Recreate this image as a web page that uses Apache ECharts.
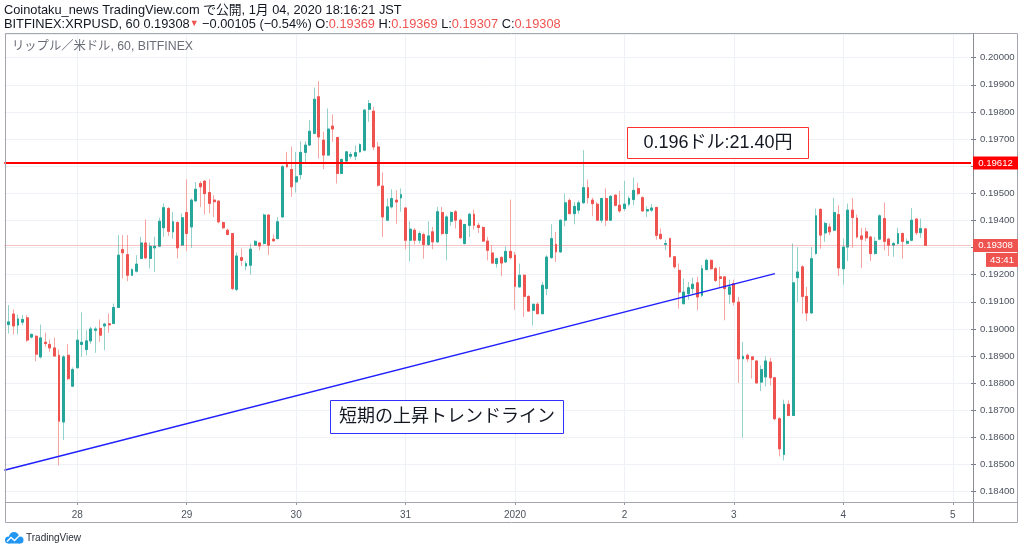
<!DOCTYPE html>
<html><head><meta charset="utf-8">
<script src="https://cdn.jsdelivr.net/npm/echarts@6/dist/echarts.min.js"></script>
<style>html,body{margin:0;padding:0;background:#fff}#c{width:1024px;height:552px}</style>
</head><body><div id="c"></div>
<script>
// ---- data (BITFINEX:XRPUSD, 60 min) ----
const dayLabels = {'12-28':'28','12-29':'29','12-30':'30','12-31':'31','01-01':'2020','01-02':'2','01-03':'3','01-04':'4','01-05':'5'};
const opens = [
0.19016,0.19055,0.19014,0.19025,0.19041,0.18970,0.18973,0.18897,0.18951,0.18943,
0.18930,0.18903,0.18657,0.18903,0.18789,0.18857,0.18943,0.18924,0.18956,0.18995,
0.19002,0.19011,0.19019,0.19020,0.19079,0.19293,0.19274,0.19198,0.19213,0.19260,
0.19317,0.19260,0.19299,0.19305,0.19373,0.19444,0.19358,0.19392,0.19309,0.19429,
0.19376,0.19472,0.19536,0.19545,0.19503,0.19475,0.19471,0.19392,0.19364,0.19352,
0.19146,0.19263,0.19232,0.19235,0.19309,0.19317,0.19315,0.19420,0.19331,0.19333,
0.19413,0.19606,0.19588,0.19542,0.19569,0.19651,0.19678,0.19721,0.19856,0.19696,
0.19641,0.19748,0.19706,0.19573,0.19619,0.19637,0.19637,0.19653,0.19659,0.19810,
0.19803,0.19671,0.19527,0.19401,0.19450,0.19475,0.19483,0.19446,0.19327,0.19364,
0.19327,0.19348,0.19311,0.19358,0.19321,0.19429,0.19352,0.19397,0.19432,0.19401,
0.19315,0.19382,0.19423,0.19382,0.19374,0.19324,0.19280,0.19241,0.19263,0.19247,
0.19286,0.19272,0.19155,0.19198,0.19120,0.19069,0.19091,0.19056,0.19149,0.19263,
0.19312,0.19284,0.19401,0.19474,0.19425,0.19438,0.19465,0.19521,0.19475,0.19460,
0.19401,0.19481,0.19401,0.19493,0.19456,0.19444,0.19460,0.19477,0.19518,0.19484,
0.19435,0.19438,0.19448,0.19349,0.19312,0.19333,0.19266,0.19216,0.19093,0.19130,
0.19149,0.19170,0.19124,0.19219,0.19253,0.19222,0.19192,0.19192,0.19128,0.19167,
0.19099,0.18890,0.18903,0.18897,0.18882,0.18804,0.18823,0.18878,0.18820,0.18669,
0.18537,0.18722,0.18681,0.19189,0.19229,0.19120,0.19059,0.19278,0.19441,0.19354,
0.19376,0.19364,0.19422,0.19222,0.19302,0.19438,0.19409,0.19343,0.19358,0.19339,
0.19278,0.19331,0.19407,0.19331,0.19309,0.19315,0.19352,0.19316,0.19327,0.19405,
0.19355,0.19369];
const closes = [
0.19026,0.19011,0.19037,0.19035,0.18959,0.18980,0.18907,0.18967,0.18946,0.18930,
0.18900,0.18660,0.18897,0.18817,0.18850,0.18959,0.18951,0.18956,0.19000,0.19000,
0.18977,0.19018,0.19015,0.19079,0.19272,0.19281,0.19198,0.19219,0.19239,0.19317,
0.19262,0.19305,0.19305,0.19397,0.19447,0.19360,0.19395,0.19299,0.19410,0.19352,
0.19475,0.19515,0.19524,0.19499,0.19463,0.19469,0.19395,0.19373,0.19348,0.19149,
0.19269,0.19253,0.19241,0.19294,0.19323,0.19306,0.19420,0.19309,0.19325,0.19395,
0.19598,0.19598,0.19524,0.19561,0.19651,0.19678,0.19729,0.19847,0.19708,0.19641,
0.19737,0.19737,0.19573,0.19625,0.19653,0.19643,0.19650,0.19680,0.19807,0.19831,
0.19671,0.19530,0.19413,0.19450,0.19481,0.19468,0.19495,0.19327,0.19368,0.19327,
0.19352,0.19311,0.19343,0.19321,0.19432,0.19352,0.19413,0.19429,0.19401,0.19336,
0.19385,0.19423,0.19382,0.19374,0.19324,0.19290,0.19243,0.19259,0.19243,0.19286,
0.19263,0.19157,0.19198,0.19120,0.19066,0.19091,0.19056,0.19161,0.19265,0.19333,
0.19284,0.19401,0.19465,0.19425,0.19452,0.19465,0.19521,0.19484,0.19462,0.19401,
0.19481,0.19401,0.19489,0.19456,0.19435,0.19460,0.19481,0.19511,0.19499,0.19435,
0.19440,0.19446,0.19345,0.19333,0.19315,0.19266,0.19229,0.19136,0.19136,0.19152,
0.19165,0.19118,0.19222,0.19253,0.19222,0.19179,0.19186,0.19149,0.19155,0.19099,
0.18890,0.18899,0.18890,0.18887,0.18801,0.18850,0.18882,0.18820,0.18669,0.18558,
0.18722,0.18681,0.19170,0.19210,0.19120,0.19059,0.19259,0.19417,0.19346,0.19389,
0.19358,0.19429,0.19225,0.19302,0.19438,0.19411,0.19339,0.19331,0.19336,0.19278,
0.19323,0.19417,0.19323,0.19309,0.19315,0.19352,0.19323,0.19323,0.19401,0.19355,
0.19370,0.19308];
const lows = [
0.18983,0.18980,0.18980,0.19014,0.18952,0.18965,0.18881,0.18891,0.18934,0.18916,
0.18900,0.18497,0.18590,0.18811,0.18786,0.18854,0.18897,0.18903,0.18946,0.18912,
0.18952,0.18922,0.18986,0.19018,0.19079,0.19186,0.19176,0.19196,0.19208,0.19257,
0.19257,0.19223,0.19210,0.19303,0.19340,0.19343,0.19333,0.19260,0.19306,0.19287,
0.19299,0.19471,0.19450,0.19422,0.19426,0.19413,0.19389,0.19368,0.19346,0.19143,
0.19139,0.19232,0.19216,0.19200,0.19306,0.19290,0.19311,0.19272,0.19321,0.19331,
0.19410,0.19592,0.19487,0.19503,0.19552,0.19614,0.19675,0.19717,0.19628,0.19589,
0.19638,0.19690,0.19536,0.19571,0.19614,0.19628,0.19622,0.19650,0.19655,0.19764,
0.19659,0.19524,0.19339,0.19397,0.19444,0.19388,0.19432,0.19294,0.19249,0.19311,
0.19315,0.19259,0.19306,0.19294,0.19318,0.19345,0.19253,0.19380,0.19370,0.19333,
0.19311,0.19339,0.19366,0.19354,0.19321,0.19253,0.19241,0.19226,0.19194,0.19243,
0.19256,0.19071,0.19152,0.19044,0.19064,0.19013,0.19056,0.19054,0.19124,0.19259,
0.19247,0.19280,0.19379,0.19423,0.19386,0.19425,0.19462,0.19462,0.19416,0.19398,
0.19391,0.19379,0.19398,0.19452,0.19428,0.19435,0.19452,0.19456,0.19493,0.19432,
0.19413,0.19432,0.19329,0.19329,0.19290,0.19263,0.19222,0.19075,0.19091,0.19108,
0.19130,0.19069,0.19118,0.19216,0.19219,0.19173,0.19155,0.19032,0.19093,0.19087,
0.18801,0.18599,0.18878,0.18817,0.18798,0.18771,0.18788,0.18792,0.18663,0.18530,
0.18515,0.18678,0.18679,0.19099,0.19056,0.19029,0.19056,0.19274,0.19296,0.19321,
0.19346,0.19360,0.19195,0.19163,0.19250,0.19299,0.19333,0.19225,0.19323,0.19250,
0.19274,0.19327,0.19290,0.19269,0.19266,0.19311,0.19259,0.19311,0.19323,0.19346,
0.19336,0.19307];
const highs = [
0.19088,0.19072,0.19053,0.19051,0.19051,0.18983,0.18977,0.19016,0.18986,0.18961,
0.18968,0.18924,0.18903,0.18944,0.18858,0.18998,0.19061,0.18995,0.19008,0.19008,
0.19035,0.19023,0.19057,0.19094,0.19346,0.19346,0.19346,0.19223,0.19272,0.19340,
0.19404,0.19319,0.19340,0.19410,0.19463,0.19450,0.19432,0.19397,0.19426,0.19552,
0.19481,0.19542,0.19545,0.19549,0.19552,0.19493,0.19475,0.19397,0.19370,0.19352,
0.19282,0.19296,0.19250,0.19315,0.19327,0.19321,0.19426,0.19422,0.19348,0.19413,
0.19604,0.19653,0.19672,0.19653,0.19692,0.19692,0.19770,0.19889,0.19914,0.19727,
0.19813,0.19791,0.19708,0.19628,0.19656,0.19653,0.19677,0.19684,0.19810,0.19844,
0.19819,0.19690,0.19577,0.19481,0.19515,0.19511,0.19518,0.19450,0.19397,0.19372,
0.19360,0.19355,0.19397,0.19376,0.19450,0.19450,0.19419,0.19434,0.19438,0.19407,
0.19388,0.19428,0.19440,0.19391,0.19379,0.19339,0.19308,0.19263,0.19268,0.19305,
0.19477,0.19284,0.19241,0.19201,0.19124,0.19093,0.19099,0.19173,0.19272,0.19386,
0.19358,0.19403,0.19499,0.19481,0.19468,0.19474,0.19659,0.19551,0.19484,0.19468,
0.19484,0.19518,0.19493,0.19497,0.19509,0.19546,0.19489,0.19558,0.19539,0.19489,
0.19452,0.19460,0.19450,0.19370,0.19329,0.19337,0.19268,0.19241,0.19186,0.19173,
0.19189,0.19192,0.19235,0.19259,0.19256,0.19229,0.19229,0.19194,0.19182,0.19182,
0.19118,0.18952,0.18909,0.18899,0.18884,0.18866,0.18899,0.18894,0.18823,0.18675,
0.18739,0.18737,0.19315,0.19302,0.19235,0.19155,0.19302,0.19444,0.19444,0.19395,
0.19389,0.19483,0.19456,0.19333,0.19462,0.19483,0.19422,0.19373,0.19373,0.19343,
0.19339,0.19422,0.19466,0.19336,0.19321,0.19373,0.19355,0.19333,0.19446,0.19409,
0.19407,0.19369];
const resistance = 0.19612;
const lastPrice = 0.19308;
const trendStart = ['12-27 08:00', 0.18479];
const trendEnd = ['01-03 09:00', 0.19204];

// ---- hourly categories: 12-27 08:00 .. 01-05 04:00 (first/last slots empty) ----
const p2 = n => (n < 10 ? '0' : '') + n;
const categories = [];
const t0 = Date.UTC(2019, 11, 27, 8);
for (let i = 0; i < 213; i++) {
  const d = new Date(t0 + i * 3600000);
  categories.push(p2(d.getUTCMonth() + 1) + '-' + p2(d.getUTCDate()) + ' ' + p2(d.getUTCHours()) + ':00');
}
const firstCat = categories[0], lastCat = categories[categories.length - 1];
const isDay = i => !!categories[i] && categories[i].slice(6) === '00:00';
const wickData = opens.map((o, i) => [categories[i + 1], o, closes[i], lows[i], highs[i]]);
const bodyData = opens.map((o, i) => [categories[i + 1], o, closes[i], Math.min(o, closes[i]), Math.max(o, closes[i])]);

const FONT = '"Liberation Sans", "Noto Sans CJK JP", sans-serif';
const chart = echarts.init(document.getElementById('c'));
chart.setOption({
  animation: false,
  backgroundColor: '#ffffff',
  grid: { left: 4.3, right: 53, top: 34, bottom: 50, containLabel: false },
  xAxis: {
    type: 'category', data: categories, boundaryGap: false,
    axisLine: { show: false },
    axisTick: { show: true, interval: i => isDay(i), length: 3, lineStyle: { color: '#9598a1' } },
    axisLabel: { interval: i => isDay(i), formatter: v => dayLabels[v.slice(0, 5)] || '', color: '#4c525e', fontSize: 10, margin: 8, fontFamily: FONT },
    splitLine: { show: true, interval: i => isDay(i), lineStyle: { color: '#eef1f6', width: 1 } }
  },
  yAxis: {
    type: 'value', position: 'right', min: 0.18362, max: 0.200874, splitNumber: 17,
    axisLine: { show: false },
    axisTick: { show: true, length: 5, lineStyle: { color: '#787b86' } },
    axisLabel: {
      color: '#4c525e', fontSize: 9.6, margin: 9, fontFamily: FONT, showMinLabel: false, showMaxLabel: false,
      formatter: v => (Math.abs(v * 1000 - Math.round(v * 1000)) < 1e-6 ? v.toFixed(5) : '')
    },
    splitLine: { show: true, lineStyle: { color: '#eef1f6', width: 1 } }
  },
  series: [
    {
      type: 'candlestick', name: 'wick', data: wickData, encode: { x: 0, y: [1, 2, 3, 4] },
      barWidth: 2.4, silent: true, z: 2,
      itemStyle: { color: '#93d2cb', color0: '#f6a5a3', borderColor: '#93d2cb', borderColor0: '#f6a5a3', borderWidth: 1 }
    },
    {
      type: 'candlestick', name: 'body', data: bodyData, encode: { x: 0, y: [1, 2, 3, 4] },
      barWidth: 2.4, silent: true, z: 3,
      itemStyle: { color: '#26a69a', color0: '#ef5350', borderColor: '#26a69a', borderColor0: '#ef5350', borderWidth: 1 },
      markLine: {
        silent: true, symbol: ['none', 'none'], label: { show: false }, z: 4, precision: 5,
        data: [
          [{ coord: [firstCat, lastPrice], lineStyle: { color: 'rgba(239,83,80,0.35)', width: 1, type: 'solid' } }, { coord: [lastCat, lastPrice] }],
          [{ coord: [firstCat, resistance], lineStyle: { color: '#ff0000', width: 2, type: 'solid' } }, { coord: [lastCat, resistance] }],
          [{ coord: trendStart, lineStyle: { color: '#1f1fff', width: 1.5, type: 'solid' } }, { coord: trendEnd }]
        ]
      }
    }
  ]
});

const yRes = chart.convertToPixel({ yAxisIndex: 0 }, resistance);
const yLast = chart.convertToPixel({ yAxisIndex: 0 }, lastPrice);
const tagText = (x, y, t) => ({ type: 'text', x: x, y: y, style: { text: t, fill: '#ffffff', font: '9.6px ' + FONT, align: 'center', verticalAlign: 'middle' }, z: 20 });
chart.setOption({
  graphic: [
    // frame
    { type: 'rect', shape: { x: 5.5, y: 33.5, width: 1012, height: 489 }, style: { fill: 'none', stroke: '#a3a6af', lineWidth: 1 }, z: 10 },
    { type: 'line', shape: { x1: 973.5, y1: 33.5, x2: 973.5, y2: 522.5 }, style: { stroke: '#8a8d96', lineWidth: 1 }, z: 10 },
    { type: 'line', shape: { x1: 5.5, y1: 502.5, x2: 1017.5, y2: 502.5 }, style: { stroke: '#a3a6af', lineWidth: 1 }, z: 10 },
    // header
    { type: 'text', x: 4, y: 10, style: { text: 'Coinotaku_news TradingView.com で公開, 1月 04, 2020 18:16:21 JST', fill: '#131722', font: '12.8px ' + FONT, verticalAlign: 'middle' }, z: 20 },
    { type: 'text', x: 4, y: 24, style: {
        text: '{k|BITFINEX:XRPUSD, 60 0.19308}{t|▼}{k| −0.00105 (−0.54%) O:}{r|0.19369}{k| H:}{r|0.19369}{k| L:}{r|0.19307}{k| C:}{r|0.19308}',
        font: '12.8px ' + FONT, verticalAlign: 'middle',
        rich: { k: { fill: '#131722', font: '12.8px ' + FONT }, r: { fill: '#ef5350', font: '12.8px ' + FONT }, t: { fill: '#ef5350', font: '9px ' + FONT } }
      }, z: 20 },
    { type: 'text', x: 12, y: 47, style: { text: 'リップル／米ドル, 60, BITFINEX', fill: '#6a6d78', font: '12.3px ' + FONT, verticalAlign: 'middle' }, z: 20 },
    // price tags
    { type: 'rect', shape: { x: 973, y: yRes - 6.5, width: 45, height: 13 }, style: { fill: '#ff0000' }, z: 19 },
    tagText(995.5, yRes, resistance.toFixed(5)),
    { type: 'rect', shape: { x: 973, y: yLast - 6.5, width: 45, height: 13 }, style: { fill: '#ef5350' }, z: 19 },
    tagText(995.5, yLast, lastPrice.toFixed(5)),
    { type: 'rect', shape: { x: 986, y: yLast + 7.5, width: 32, height: 14 }, style: { fill: '#ef5350' }, z: 19 },
    tagText(1002, yLast + 14.5, '43:41'),
    // annotations
    { type: 'rect', shape: { x: 627.5, y: 127.5, width: 181, height: 31 }, style: { fill: '#ffffff', stroke: '#ff3030', lineWidth: 1 }, z: 15 },
    { type: 'text', x: 718, y: 143, style: { text: '0.196ドル:21.40円', fill: '#131722', font: '18px ' + FONT, align: 'center', verticalAlign: 'middle' }, z: 16 },
    { type: 'rect', shape: { x: 330.5, y: 400.5, width: 233, height: 33 }, style: { fill: '#ffffff', stroke: '#3030ff', lineWidth: 1 }, z: 15 },
    { type: 'text', x: 447, y: 417, style: { text: '短期の上昇トレンドライン', fill: '#131722', font: '18px ' + FONT, align: 'center', verticalAlign: 'middle' }, z: 16 },
    // TradingView logo
    { type: 'group', x: 0, y: 0, z: 20, children: [
      { type: 'circle', shape: { cx: 8.5, cy: 540, r: 3.5 }, style: { fill: '#2196f3' } },
      { type: 'circle', shape: { cx: 14, cy: 537, r: 5 }, style: { fill: '#2196f3' } },
      { type: 'circle', shape: { cx: 20, cy: 540, r: 3.5 }, style: { fill: '#2196f3' } },
      { type: 'rect', shape: { x: 8.5, y: 539, width: 11.5, height: 4.5 }, style: { fill: '#2196f3' } },
      { type: 'polyline', shape: { points: [[7, 541.5], [11, 537.5], [14.5, 540.5], [19, 536]] }, style: { stroke: '#ffffff', lineWidth: 1.3, fill: 'none' } }
    ] },
    { type: 'text', x: 26, y: 538.5, style: { text: 'TradingView', fill: '#2a2e39', font: '10px ' + FONT, verticalAlign: 'middle' }, z: 20 }
  ]
});
</script>
</body></html>
